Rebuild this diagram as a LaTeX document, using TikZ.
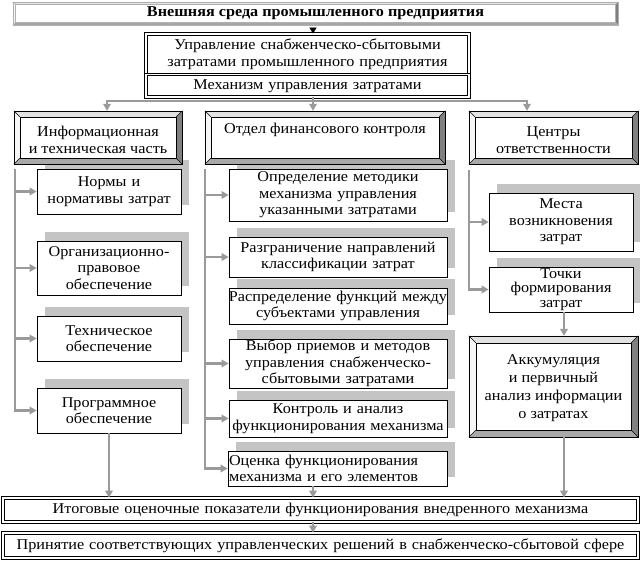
\documentclass[tikz,border=0pt]{standalone}
\usepackage{fontspec}
\setmainfont{Liberation Serif}[FakeStretch=1.08]
\usetikzlibrary{arrows.meta,calc,shadows}
\definecolor{cline}{HTML}{9A9A9A}
\definecolor{shad}{HTML}{C4C4C4}
\definecolor{bvR}{HTML}{808080}
\definecolor{bvB}{HTML}{A8A8A8}
\definecolor{bvT}{HTML}{E2E2E2}
\definecolor{bvL}{HTML}{F6F6F6}
\definecolor{topline}{HTML}{B0B0B0}
\newcommand\bevel[3][black]{%
  \fill[bvR] (#2.north east) -- (#2.south east) -- ($(#2.south east)+(-#3,-#3)$) -- ($(#2.north east)+(-#3,#3)$) -- cycle;
  \fill[bvB] (#2.south west) -- (#2.south east) -- ($(#2.south east)+(-#3,-#3)$) -- ($(#2.south west)+(#3,-#3)$) -- cycle;
  \fill[bvT] (#2.north west) -- (#2.north east) -- ($(#2.north east)+(-#3,#3)$) -- ($(#2.north west)+(#3,#3)$) -- cycle;
  \fill[bvL] (#2.north west) -- (#2.south west) -- ($(#2.south west)+(#3,-#3)$) -- ($(#2.north west)+(#3,#3)$) -- cycle;
  \draw[#1, line width=0.6pt] (#2.north west) rectangle (#2.south east);
  \draw[#1, line width=0.6pt] ($(#2.north west)+(#3,#3)$) rectangle ($(#2.south east)+(-#3,-#3)$);
  \draw[#1, line width=0.4pt] (#2.north west) -- ($(#2.north west)+(#3,#3)$)
    (#2.north east) -- ($(#2.north east)+(-#3,#3)$)
    (#2.south west) -- ($(#2.south west)+(#3,-#3)$)
    (#2.south east) -- ($(#2.south east)+(-#3,-#3)$);
}
\tikzset{
  every node/.style={font=\fontsize{15}{16.5}\selectfont},
  base/.style={inner xsep=0pt, inner ysep=0pt, align=center},
  cbox/.style={base, draw, fill=white, line width=0.7pt,
    general shadow={fill=shad, shadow xshift=8pt, shadow yshift=9pt}},
  bbox/.style={base, fill=white},
  dbox/.style={base, draw, double, double distance=1.8pt, line width=0.7pt},
  gl/.style={draw=cline, line width=2.2pt},
  ga/.style={draw=cline, line width=2.2pt, -{Triangle[length=7pt,width=7.5pt]}, color=cline},
}
\begin{document}
\begin{tikzpicture}[x=1pt,y=-1pt]
\useasboundingbox (0,0) rectangle (640,560);
\clip (0,0) rectangle (640,560);
\fill[white] (0,0) rectangle (640,560);
% --- children (drawn first, so parents lie over shadows)
\node[cbox, text width=144pt, minimum height=45pt] (N1) at (109,191.5) {Нормы и\\нормативы затрат};
\node[cbox, text width=144pt, minimum height=54pt] (N2) at (109,268) {Организационно-\\правовое\\обеспечение};
\node[cbox, text width=144pt, minimum height=45pt] (N3) at (109,338.5) {Техническое\\обеспечение};
\node[cbox, text width=144pt, minimum height=45pt] (N4) at (109,410.5) {Программное\\обеспечение};
\node[cbox, text width=218pt, minimum height=52pt] (M1) at (338,195) {Определение методики\\механизма управления\\указанными затратами};
\node[cbox, text width=218pt, minimum height=40pt] (M2) at (338,257) {Разграничение направлений\\классификации затрат};
\node[cbox, text width=218pt, minimum height=36pt] (M3) at (338,306) {\makebox[\linewidth]{Распределение функций между}\\субъектами управления};
\node[cbox, text width=218pt, minimum height=49pt] (M4) at (338,363.5) {Выбор приемов и методов\\управления снабженческо-\\сбытовыми затратами};
\node[cbox, text width=218pt, minimum height=37pt] (M5) at (338,418.5) {Контроль и анализ\\функционирования механизма};
\node[cbox, text width=217pt, minimum height=35pt, align=left, inner xsep=1pt] (M6) at (337.5,468.5) {Оценка функционирования\\механизма и его элементов};
\node[cbox, text width=144pt, minimum height=58pt] (R1) at (561,222) {Места\\возникновения\\затрат};
\node[cbox, text width=144pt, minimum height=45pt, font=\fontsize{15}{14.5}\selectfont] (R2) at (561,289.5) {Точки\\формирования\\затрат};
% --- top
\node[bbox, text width=605pt, minimum height=23pt] (top) at (315.5,13.5) {};
\bevel[topline]{top}{2.5}
\node[base, font=\bfseries\fontsize{15}{16.5}\selectfont] at (315.5,13.5) {Внешняя среда промышленного предприятия};
\node[dbox, text width=323pt, minimum height=40.5pt] (upr) at (307.5,54.25) {Управление снабженческо-сбытовыми\\затратами промышленного предприятия};
\node[dbox, text width=323pt, minimum height=22.5pt] (mech) at (307.5,85.75) {Механизм управления затратами};
% --- level 2 bevel boxes
\node[bbox, text width=168pt, minimum height=53pt] (inf) at (98,137.5) {};
\bevel{inf}{6}
\node[base] at (98,140) {Информационная\\и техническая часть};
\node[bbox, text width=240pt, minimum height=53pt] (fin) at (325,137.5) {};
\bevel{fin}{6}
\node[base] at (325,130) {Отдел финансового контроля};
\node[bbox, text width=169pt, minimum height=53pt] (cen) at (553.5,137.5) {};
\bevel{cen}{6}
\node[base] at (553.5,140) {Центры\\ответственности};
\node[bbox, text width=169pt, minimum height=101pt] (akk) at (553.5,386.5) {};
\bevel{akk}{7}
\node[base, font=\fontsize{15}{18}\selectfont] at (553.5,388) {Аккумуляция\\и первичный\\анализ информации\\о затратах};
% --- bottom
\node[dbox, text width=635pt, minimum height=24pt] (itog) at (320.5,510) {Итоговые оценочные показатели функционирования внедренного механизма};
\node[dbox, text width=635pt, minimum height=25pt] (prin) at (320.5,545.5) {Принятие соответствующих управленческих решений в снабженческо-сбытовой сфере};
% --- connectors
\coordinate (hub) at (313,101);
\coordinate (xL) at (107,0);
\coordinate (xR) at (527,0);
\coordinate (xA) at (564,0);
\draw[-{Triangle[length=6pt,width=7pt]}, line width=0.6pt, shorten <=2.5pt] (top.south -| hub) -- (upr.north -| hub);
\draw[gl] (mech.south -| hub) -- (hub);
\draw[ga] (hub) -| (inf.north -| xL);
\draw[ga] (hub) -- (fin.north -| hub);
\draw[ga] (hub) -| (cen.north -| xR);
\coordinate (L0) at (15,169);
\draw[ga] (L0) |- (N4.west);
\draw[ga] (L0 |- N1.west) -- (N1.west);
\draw[ga] (L0 |- N2.west) -- (N2.west);
\draw[ga] (L0 |- N3.west) -- (N3.west);
\coordinate (M0) at (205,169);
\draw[ga] (M0) |- (M6.west);
\draw[ga] (M0 |- M1.west) -- (M1.west);
\draw[ga] (M0 |- M2.west) -- (M2.west);
\draw[ga] (M0 |- M4.west) -- (M4.west);
\draw[ga] (M0 |- M5.west) -- (M5.west);
\coordinate (R0) at (469,170);
\draw[ga] (R0) |- (R2.west);
\draw[ga] (R0 |- R1.west) -- (R1.west);
\draw[ga] (N4.south) -- (itog.north -| N4.south);
\draw[ga] (M6.south -| hub) -- (itog.north -| hub);
\draw[ga] (itog.south -| hub) -- (prin.north -| hub);
\draw[ga] (R2.south -| xA) -- (akk.north -| xA);
\draw[ga] (akk.south -| xA) -- (itog.north -| xA);
\end{tikzpicture}
\end{document}
